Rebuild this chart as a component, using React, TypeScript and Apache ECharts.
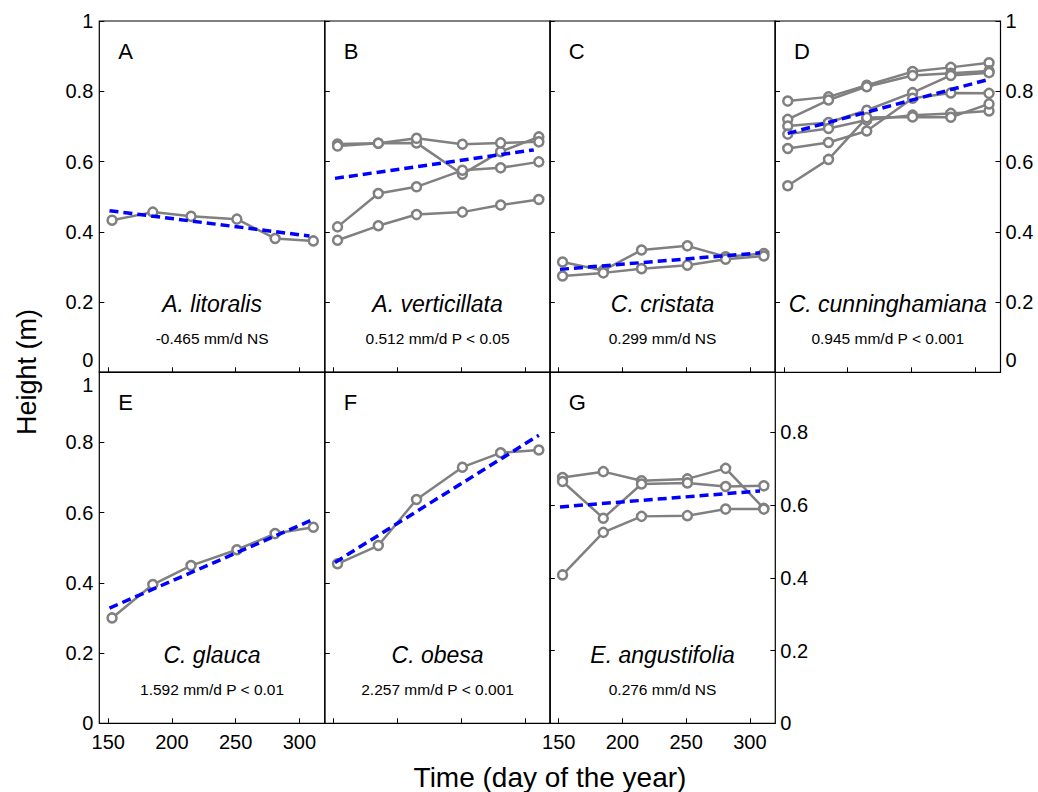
import React, { useEffect, useRef } from "react";
import * as echarts from "echarts";

// ---------- data ----------
const days = [153, 185, 215, 251, 281, 311];
const xTicks = [150, 200, 250, 300];
const yTicksG = [0, 0.2, 0.4, 0.6, 0.8];

const panelLetters = ["A", "B", "C", "D", "E", "F", "G"];
const speciesNames = [
  "A. litoralis",
  "A. verticillata",
  "C. cristata",
  "C. cunninghamiana",
  "C. glauca",
  "C. obesa",
  "E. angustifolia",
];
const statsLabels = [
  "-0.465 mm/d NS",
  "0.512 mm/d P < 0.05",
  "0.299 mm/d NS",
  "0.945 mm/d P < 0.001",
  "1.592 mm/d P < 0.01",
  "2.257 mm/d P < 0.001",
  "0.276 mm/d NS",
];

const seriesA = [[0.433, 0.456, 0.444, 0.436, 0.381, 0.374]];
const seriesB = [
  [0.650, 0.652, 0.653, 0.564, 0.628, 0.670],
  [0.644, 0.652, 0.666, 0.649, 0.653, 0.656],
  [0.414, 0.509, 0.528, 0.575, 0.582, 0.599],
  [0.376, 0.417, 0.449, 0.456, 0.476, 0.492],
];
const seriesC = [
  [0.314, 0.290, 0.348, 0.360, 0.329, 0.338],
  [0.274, 0.283, 0.295, 0.305, 0.322, 0.331],
];
const seriesD = [
  [0.772, 0.784, 0.817, 0.856, 0.868, 0.881],
  [0.720, 0.775, 0.813, 0.845, 0.851, 0.858],
  [0.701, 0.711, 0.746, 0.796, 0.845, 0.853],
  [0.678, 0.694, 0.718, 0.732, 0.737, 0.744],
  [0.637, 0.654, 0.687, 0.780, 0.795, 0.794],
  [0.531, 0.606, 0.725, 0.727, 0.726, 0.764],
];
const seriesE = [[0.300, 0.395, 0.449, 0.494, 0.540, 0.558]];
const seriesF = [[0.454, 0.506, 0.637, 0.729, 0.770, 0.778]];
const seriesG = [
  [0.676, 0.692, 0.667, 0.672, 0.701, 0.591],
  [0.665, 0.564, 0.658, 0.661, 0.651, 0.653],
  [0.408, 0.525, 0.569, 0.571, 0.589, 0.589],
];

const trendA = [[151, 0.460], [308, 0.388]];
const trendB = [[151, 0.552], [307, 0.633]];
const trendC = [[151, 0.293], [308, 0.340]];
const trendD = [[153, 0.680], [311, 0.834]];
const trendE = [[151, 0.328], [312, 0.582]];
const trendF = [[151, 0.458], [311, 0.820]];
const trendG = [[151, 0.595], [308, 0.639]];

const allSeries = [seriesA, seriesB, seriesC, seriesD, seriesE, seriesF, seriesG];
const allTrends = [trendA, trendB, trendC, trendD, trendE, trendF, trendG];

// ---------- layout ----------
const FONT = "'Liberation Sans', Arial, Helvetica, sans-serif";
const colLefts = [99.3, 324.8, 549.8, 775];
const panelW = 225.5;
const rowTops = [21, 372];
const panelH = 351.3;
const panelPos = [
  [0, 0], [1, 0], [2, 0], [3, 0],
  [0, 1], [1, 1], [2, 1],
];
const X_MIN = 143;
const X_MAX = 320;
const G_MAX = 0.966;

const fmt = (v: number) => String(Math.round(v * 10) / 10);

export default function App() {
  const ref = useRef<HTMLDivElement>(null);

  useEffect(() => {
    if (!ref.current) return;
    const chart = echarts.init(ref.current, undefined, { renderer: "svg" });

    const grid: any[] = [];
    const xAxis: any[] = [];
    const yAxis: any[] = [];
    const series: any[] = [];
    const graphic: any[] = [];

    const txt = (x: number, y: number, text: string, font: string, align: string, valign: string, extra: any = {}) => ({
      type: "text",
      x,
      y,
      ...extra,
      style: {
        text,
        font,
        fill: "#000",
        align,
        verticalAlign: valign,
        textAlign: align,
        textVerticalAlign: valign,
      },
    });

    panelPos.forEach(([c, r], i) => {
      const left = colLefts[c];
      const top = rowTops[r];
      grid.push({
        left,
        top,
        width: panelW,
        height: panelH,
        show: true,
        borderColor: "#000",
        borderWidth: 1.2,
        backgroundColor: "transparent",
      });
      const showX = i === 4 || i === 6;
      xAxis.push({
        type: "value",
        gridIndex: i,
        min: X_MIN,
        max: X_MAX,
        axisLine: { show: false },
        splitLine: { show: false },
        axisTick: {
          show: true,
          inside: true,
          length: 5,
          lineStyle: { color: "#000", width: 1 },
          customValues: xTicks,
        },
        axisLabel: {
          show: showX,
          customValues: xTicks,
          fontSize: 20,
          color: "#000",
          margin: 9,
          fontFamily: FONT,
        },
      });
      const isG = i === 6;
      const showY = i === 0 || i === 4;
      yAxis.push({
        type: "value",
        gridIndex: i,
        min: 0,
        max: isG ? G_MAX : 1,
        ...(isG ? {} : { interval: 0.2 }),
        position: "left",
        axisLine: { show: false },
        splitLine: { show: false },
        axisTick: {
          show: true,
          inside: true,
          length: 5,
          lineStyle: { color: "#000", width: 1 },
          ...(isG ? { customValues: yTicksG } : {}),
        },
        axisLabel: {
          show: showY,
          fontSize: 20,
          color: "#000",
          margin: 6,
          fontFamily: FONT,
          // the shared-edge labels (top-row 0, bottom-row 1) are placed as graphics below
          formatter: (v: number) => {
            if (i === 0 && v === 0) return "";
            if (i === 4 && v === 1) return "";
            return fmt(v);
          },
        },
      });

      allSeries[i].forEach((vals) => {
        series.push({
          type: "line",
          xAxisIndex: i,
          yAxisIndex: i,
          data: vals.map((v, j) => [days[j], v]),
          symbol: "circle",
          symbolSize: 9,
          showSymbol: true,
          lineStyle: { color: "#808080", width: 2.5 },
          itemStyle: { color: "#ffffff", borderColor: "#808080", borderWidth: 2.5 },
          z: 2,
          silent: true,
        });
      });
      series.push({
        type: "line",
        xAxisIndex: i,
        yAxisIndex: i,
        data: allTrends[i],
        symbol: "none",
        lineStyle: { color: "#0000ff", width: 3.5, type: [9, 5] },
        z: 3,
        silent: true,
      });

      const cx = left + panelW / 2;
      graphic.push(txt(left + 19, top + 30, panelLetters[i], `22px ${FONT}`, "left", "middle"));
      graphic.push(txt(cx, top + 283, speciesNames[i], `italic 23px ${FONT}`, "center", "middle"));
      graphic.push(txt(cx, top + 317, statsLabels[i], `15.5px ${FONT}`, "center", "middle"));
    });

    // right axes for D and G
    [3, 6].forEach((gi) => {
      const isG = gi === 6;
      yAxis.push({
        type: "value",
        gridIndex: gi,
        min: 0,
        max: isG ? G_MAX : 1,
        ...(isG ? {} : { interval: 0.2 }),
        position: "right",
        axisLine: { show: false },
        splitLine: { show: false },
        axisTick: {
          show: true,
          inside: true,
          length: 5,
          lineStyle: { color: "#000", width: 1 },
          ...(isG ? { customValues: yTicksG } : {}),
        },
        axisLabel: {
          show: true,
          fontSize: 20,
          color: "#000",
          margin: 5,
          fontFamily: FONT,
          formatter: (v: number) => (!isG && v === 0 ? "" : fmt(v)),
          ...(isG ? { customValues: yTicksG } : {}),
        },
      });
    });

    // shared-edge tick labels
    const lblFont = `20px ${FONT}`;
    graphic.push(txt(colLefts[0] - 6, 370, "0", lblFont, "right", "bottom"));
    graphic.push(txt(colLefts[0] - 6, 375, "1", lblFont, "right", "top"));
    graphic.push(txt(colLefts[3] + panelW + 5, 370, "0", lblFont, "left", "bottom"));

    graphic.push(txt(550, 777, "Time (day of the year)", `28px ${FONT}`, "center", "middle"));
    graphic.push(txt(27, 372, "Height (m)", `27px ${FONT}`, "center", "middle", { rotation: Math.PI / 2 }));

    chart.setOption({
      animation: false,
      backgroundColor: "#ffffff",
      textStyle: { fontFamily: FONT },
      grid,
      xAxis,
      yAxis,
      series,
      graphic,
    });

    return () => {
      chart.dispose();
    };
  }, []);

  return (
    <div
      ref={ref}
      style={{ position: "fixed", left: 0, top: 0, width: 1038, height: 792, background: "#fff" }}
    />
  );
}
